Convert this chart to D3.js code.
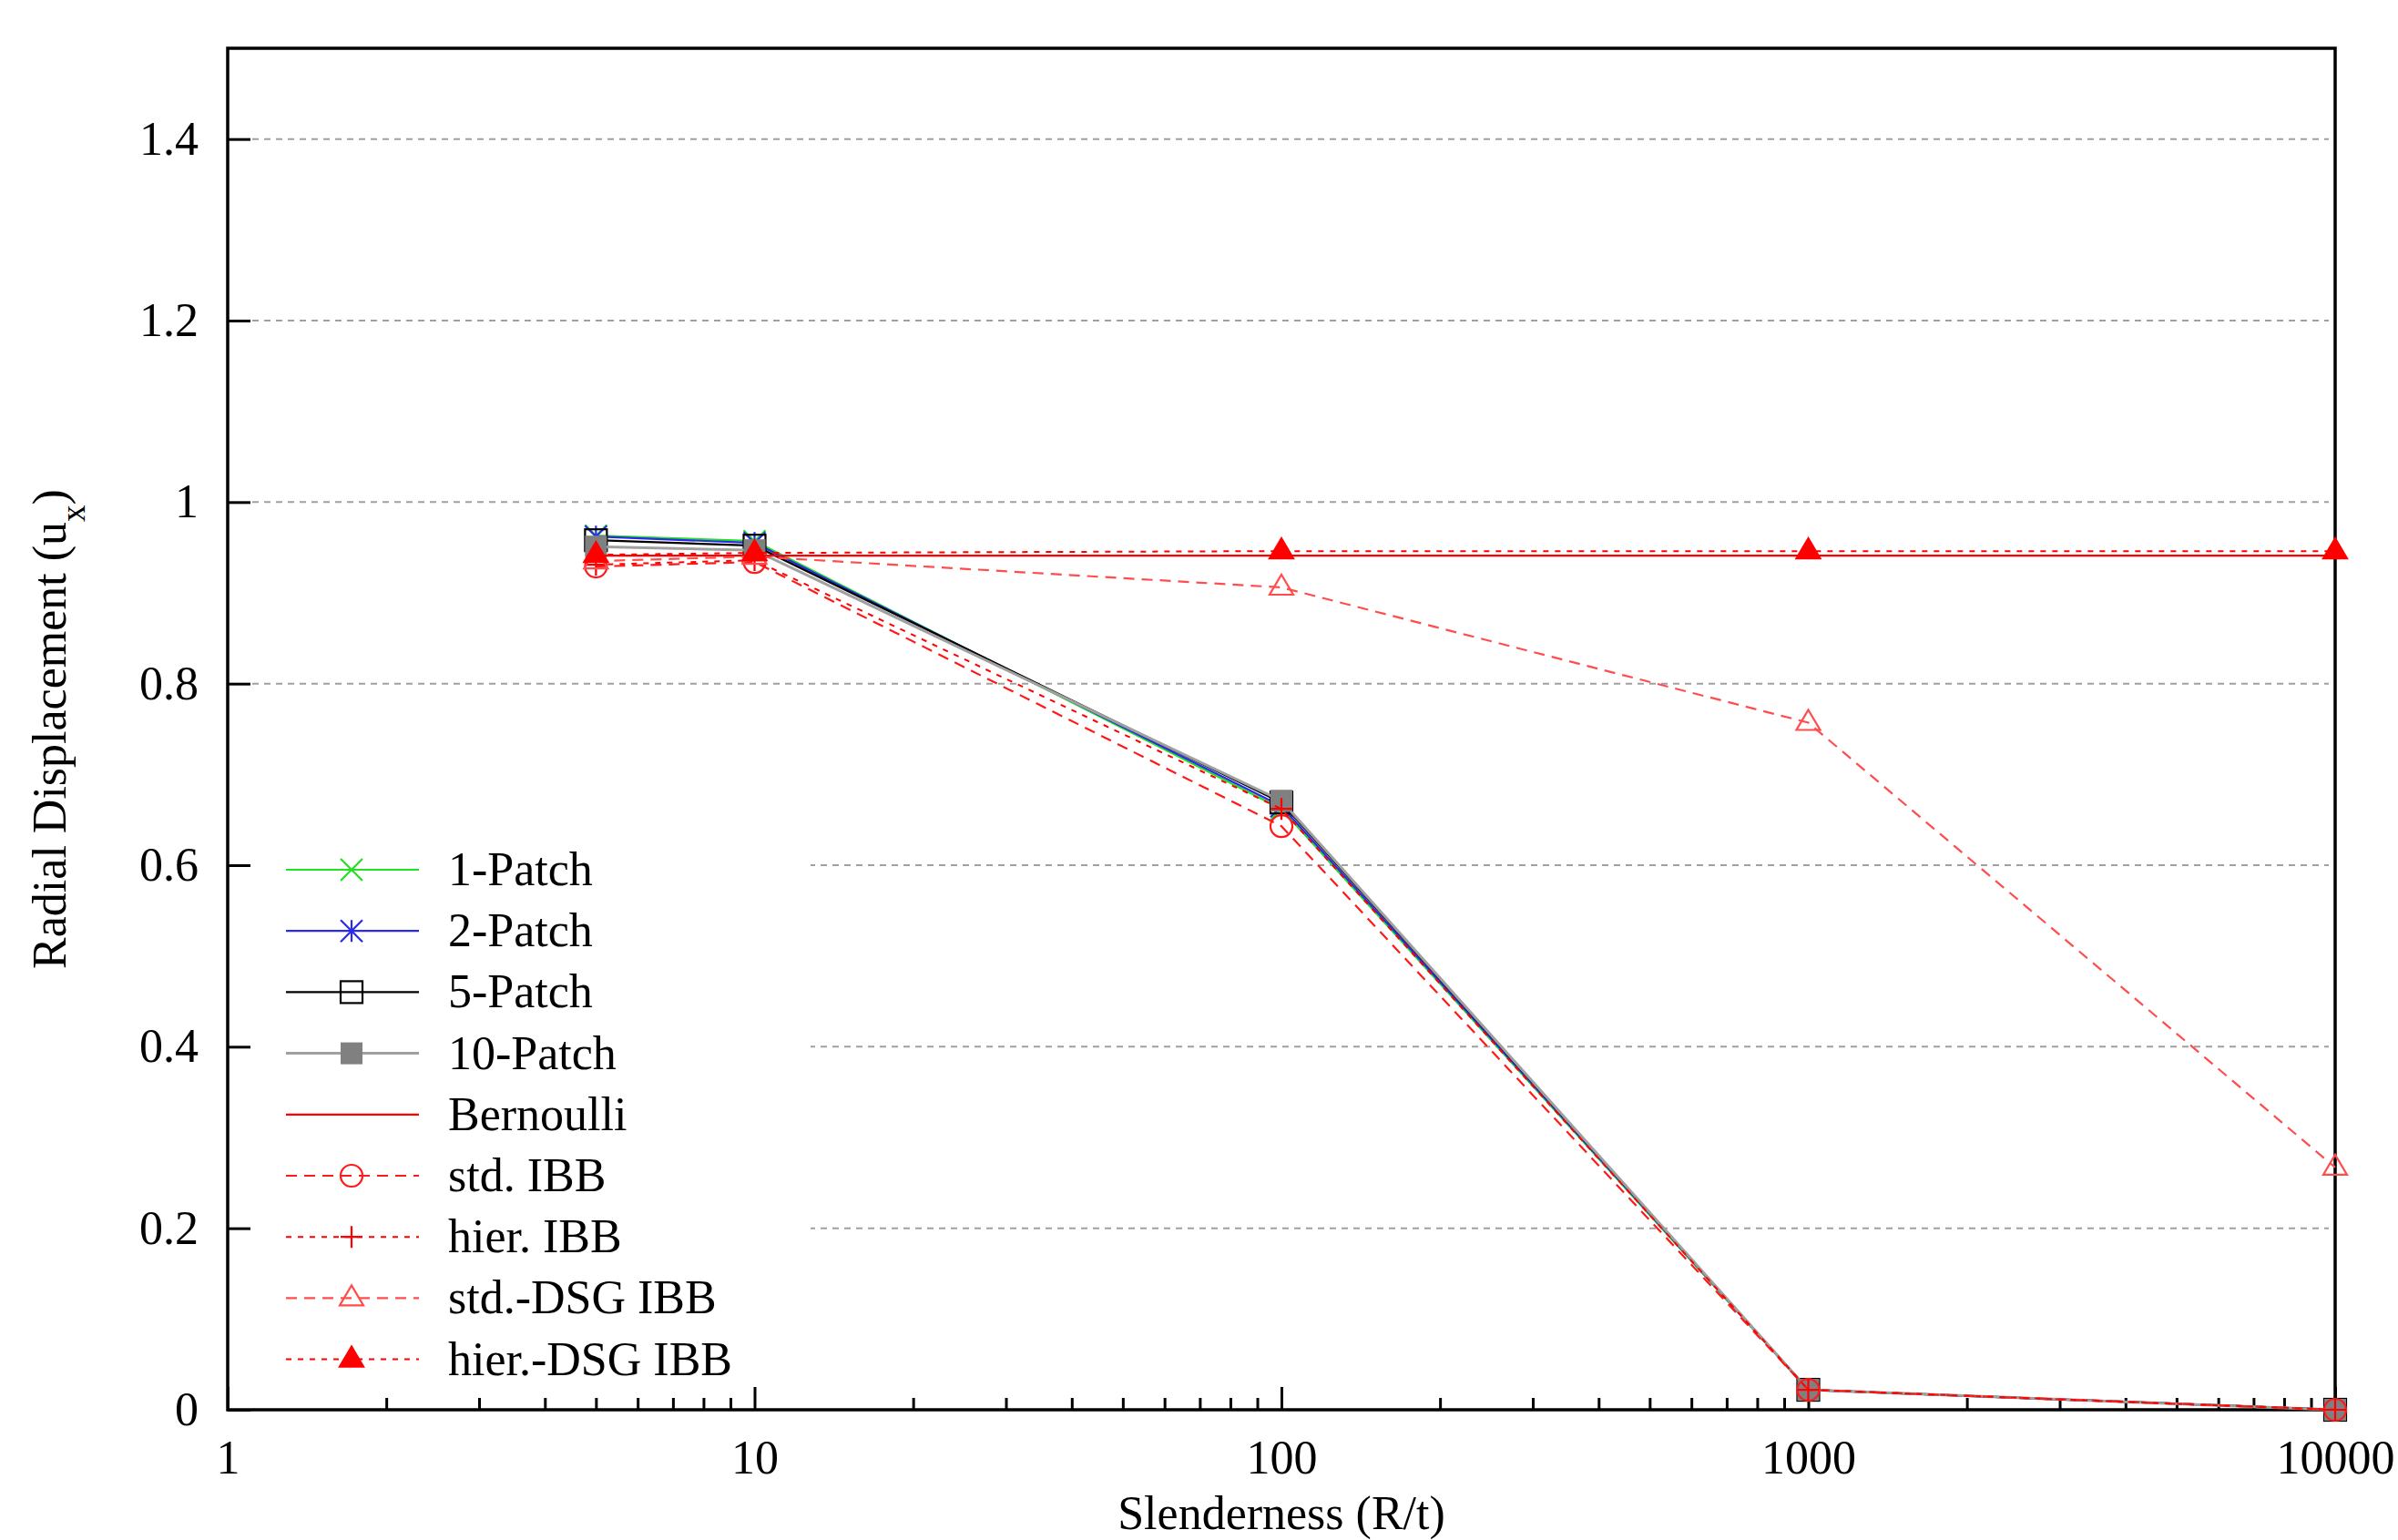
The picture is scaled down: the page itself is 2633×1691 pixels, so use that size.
<!DOCTYPE html>
<html>
<head>
<meta charset="utf-8">
<script src="https://cdn.jsdelivr.net/npm/d3@7"></script>
<style>
  body { margin: 0; background: #fff; }
  text { font-family: "Liberation Serif", "DejaVu Serif", serif; fill: #000; }
</style>
</head>
<body>
<svg id="chart"></svg>
<script>
const W = 2633, H = 1691;

// data
const slenderness = [5, 10, 100, 1000, 10000];
const patch1 = [0.963, 0.957, 0.662, 0.022, 0.0];
const patch2 = [0.962, 0.955, 0.665, 0.022, 0.0];
const patch5 = [0.958, 0.952, 0.669, 0.022, 0.0];
const patch10 = [0.951, 0.947, 0.671, 0.022, 0.0];
const bernoulli = [0.941, 0.941, 0.941, 0.941, 0.941];
const stdIBB = [0.929, 0.934, 0.643, 0.022, 0.0];
const hierIBB = [0.931, 0.936, 0.662, 0.022, 0.0];
const stdDSG = [0.935, 0.940, 0.906, 0.757, 0.267];
const hierDSG = [0.942, 0.944, 0.946, 0.946, 0.946];

const xMajor = [1, 10, 100, 1000, 10000];
const yTicks = [0, 0.2, 0.4, 0.6, 0.8, 1, 1.2, 1.4];

const series = [
  { name: "1-Patch", values: patch1, color: "#22e022", dash: null, width: 2.2, marker: "x" },
  { name: "2-Patch", values: patch2, color: "#2a2ae8", dash: null, width: 2.2, marker: "star" },
  { name: "5-Patch", values: patch5, color: "#000", dash: null, width: 2.2, marker: "box" },
  { name: "10-Patch", values: patch10, color: "#a0a0a0", dash: null, width: 3, marker: "fbox" },
  { name: "Bernoulli", values: bernoulli, color: "#ff0000", dash: null, width: 2.2, marker: null },
  { name: "std. IBB", values: stdIBB, color: "#ff1a1a", dash: "12,8", width: 2.2, marker: "circle" },
  { name: "hier. IBB", values: hierIBB, color: "#ff0000", dash: "6,7", width: 2, marker: "plus" },
  { name: "std.-DSG IBB", values: stdDSG, color: "#ff4d4d", dash: "12,8", width: 2.2, marker: "tri" },
  { name: "hier.-DSG IBB", values: hierDSG, color: "#ff0000", dash: "6,7", width: 2, marker: "ftri" }
];

const mLeft = 250, mRight = 2564, mTop = 53, mBottom = 1548;
const fontSize = "52px";

const x = d3.scaleLog().domain([1, 10000]).range([mLeft, mRight]);
const y = d3.scaleLinear().domain([0, 1.5]).range([mBottom, mTop]);

const svg = d3.select("#chart").attr("width", W).attr("height", H);

// grid
svg.append("g")
  .selectAll("line")
  .data(yTicks.filter(d => d > 0))
  .enter()
  .append("line")
  .attr("x1", mLeft + 27).attr("x2", mRight - 7)
  .attr("y1", d => y(d)).attr("y2", d => y(d))
  .attr("stroke", "#a0a0a0").attr("stroke-width", 2)
  .attr("stroke-dasharray", "7,6");

// legend background hides the grid under the key
svg.append("rect")
  .attr("x", mLeft + 3).attr("y", 922)
  .attr("width", 890 - mLeft - 3).attr("height", mBottom - 922 - 3)
  .attr("fill", "#fff");

// axes
const yAxis = d3.axisLeft(y).tickValues(yTicks).tickSize(-25).tickPadding(32)
  .tickFormat(d => String(+d.toFixed(1)));
const gy = svg.append("g").attr("transform", `translate(${mLeft},0)`).call(yAxis);

const xAxis = d3.axisBottom(x).tickValues(xMajor).tickSize(-25).tickPadding(33)
  .tickFormat(d3.format("d"));
const gx = svg.append("g").attr("transform", `translate(0,${mBottom})`).call(xAxis);

const minors = [];
xMajor.slice(0, -1).forEach(m => { for (let k = 2; k < 10; k++) minors.push(m * k); });
const gm = svg.append("g").attr("transform", `translate(0,${mBottom})`)
  .call(d3.axisBottom(x).tickValues(minors).tickSize(-13).tickFormat(""));

[gx, gy, gm].forEach(g => {
  g.select(".domain").remove();
  g.selectAll(".tick line").attr("stroke", "#000").attr("stroke-width", 3);
  g.selectAll(".tick text").style("font-size", fontSize).attr("fill", "#000")
    .style("font-family", '"Liberation Serif", serif');
});

svg.append("rect")
  .attr("x", mLeft).attr("y", mTop)
  .attr("width", mRight - mLeft).attr("height", mBottom - mTop)
  .attr("fill", "none").attr("stroke", "#000").attr("stroke-width", 3.5);

// axis titles
svg.append("text")
  .attr("x", (mLeft + mRight) / 2).attr("y", 1679)
  .attr("text-anchor", "middle")
  .style("font-size", fontSize)
  .text("Slenderness (R/t)");

const yt = svg.append("text")
  .attr("transform", `translate(72,${(mTop + mBottom) / 2}) rotate(-90)`)
  .attr("text-anchor", "middle")
  .style("font-size", fontSize);
yt.append("tspan").text("Radial Displacement (u");
yt.append("tspan").attr("baseline-shift", "sub").style("font-size", "37px").text("x");
yt.append("tspan").text(")");

// markers
function drawMarker(g, type, cx, cy, color) {
  const s = 12;
  if (type === "x" || type === "star") {
    g.append("path")
      .attr("d", `M${cx - s},${cy - s}L${cx + s},${cy + s}M${cx - s},${cy + s}L${cx + s},${cy - s}`)
      .attr("stroke", color).attr("stroke-width", 2.2).attr("fill", "none");
  }
  if (type === "plus" || type === "star") {
    const d = type === "star"
      ? `M${cx},${cy - s}L${cx},${cy + s}`
      : `M${cx - s},${cy}L${cx + s},${cy}M${cx},${cy - s}L${cx},${cy + s}`;
    g.append("path").attr("d", d)
      .attr("stroke", color).attr("stroke-width", 2.2).attr("fill", "none");
  }
  if (type === "box" || type === "fbox") {
    g.append("rect")
      .attr("x", cx - s).attr("y", cy - s).attr("width", 2 * s).attr("height", 2 * s)
      .attr("fill", type === "fbox" ? "#808080" : "none")
      .attr("stroke", type === "fbox" ? "none" : color).attr("stroke-width", 2.2);
  }
  if (type === "circle") {
    g.append("circle").attr("cx", cx).attr("cy", cy).attr("r", s)
      .attr("fill", "none").attr("stroke", color).attr("stroke-width", 2.2);
  }
  if (type === "tri" || type === "ftri") {
    g.append("path")
      .attr("d", `M${cx},${cy - 14}L${cx + 13},${cy + 8}L${cx - 13},${cy + 8}Z`)
      .attr("fill", type === "ftri" ? color : "none")
      .attr("stroke", color).attr("stroke-width", 2.2);
  }
}

const line = d3.line().x(d => x(d[0])).y(d => y(d[1]));
const plot = svg.append("g");

series.forEach(s => {
  const pts = slenderness.map((v, i) => [v, s.values[i]]);
  const g = plot.append("g");
  g.append("path")
    .attr("d", line(pts))
    .attr("fill", "none")
    .attr("stroke", s.color)
    .attr("stroke-width", s.width)
    .attr("stroke-dasharray", s.dash);
  if (s.marker) pts.forEach(p => drawMarker(g, s.marker, x(p[0]), y(p[1]), s.color));
});

// legend
const legend = svg.append("g");
series.forEach((s, i) => {
  const ly = 955 + i * 67.2;
  const g = legend.append("g");
  g.append("line")
    .attr("x1", 314).attr("x2", 460).attr("y1", ly).attr("y2", ly)
    .attr("stroke", s.color).attr("stroke-width", s.width)
    .attr("stroke-dasharray", s.dash);
  if (s.marker) drawMarker(g, s.marker, 386, ly, s.color);
  g.append("text")
    .attr("x", 492).attr("y", ly + 17)
    .style("font-size", fontSize)
    .text(s.name);
});
</script>
</body>
</html>
